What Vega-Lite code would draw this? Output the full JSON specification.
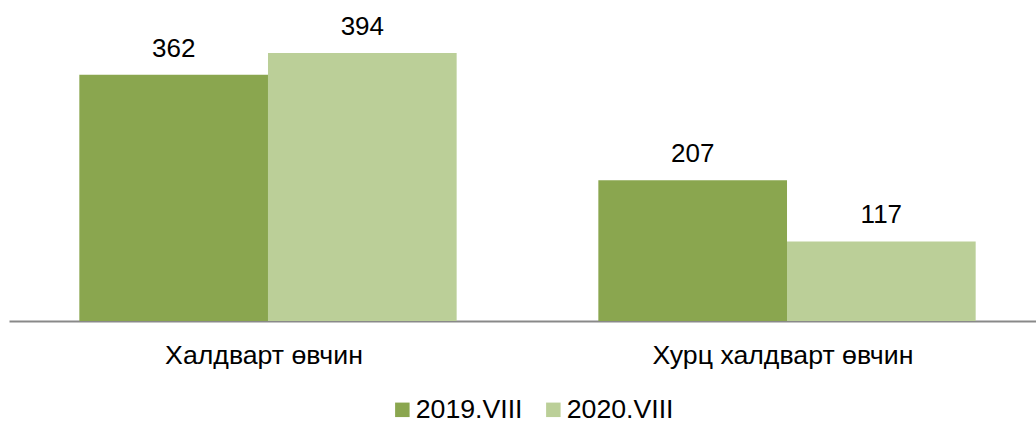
{
  "$schema": "https://vega.github.io/schema/vega-lite/v6.json",
  "width": 1027,
  "height": 306,
  "autosize": {"type": "none"},
  "padding": {"left": 9, "top": 15, "right": 0, "bottom": 100},
  "config": {
    "view": {"stroke": null},
    "font": "Liberation Sans"
  },
  "data": {
    "values": [
      {"cat": "Халдварт өвчин", "year": "2019.VIII", "value": 362},
      {"cat": "Халдварт өвчин", "year": "2020.VIII", "value": 394},
      {"cat": "Хурц халдварт өвчин", "year": "2019.VIII", "value": 207},
      {"cat": "Хурц халдварт өвчин", "year": "2020.VIII", "value": 117}
    ]
  },
  "encoding": {
    "x": {
      "field": "cat",
      "type": "nominal",
      "sort": null,
      "scale": {"range": [0, 1037], "paddingInner": 0.273, "paddingOuter": 0.1355},
      "axis": {
        "title": null,
        "labelAngle": 0,
        "ticks": false,
        "tickSize": 0,
        "labelPadding": 42,
        "labelBaseline": "alphabetic",
        "labelFontSize": 26.7,
        "labelFont": "Liberation Sans",
        "labelColor": "#000000",
        "labelLimit": 0,
        "labelOffset": -4,
        "domainColor": "#898989",
        "domainWidth": 2,
        "grid": false
      }
    },
    "xOffset": {
      "field": "year",
      "type": "nominal",
      "scale": {"paddingInner": 0, "paddingOuter": 0}
    },
    "y": {
      "field": "value",
      "type": "quantitative",
      "scale": {"domain": [0, 450]},
      "axis": null
    }
  },
  "layer": [
    {
      "mark": {"type": "bar"},
      "encoding": {
        "color": {
          "field": "year",
          "type": "nominal",
          "scale": {"range": ["#8AA64F", "#BBCF98"]},
          "legend": {
            "title": null,
            "orient": "none",
            "legendX": 380,
            "legendY": 381,
            "direction": "horizontal",
            "symbolType": "square",
            "symbolSize": 210,
            "symbolStrokeWidth": 0,
            "labelFontSize": 26.7,
            "labelFont": "Liberation Sans",
            "labelColor": "#000000",
            "labelLimit": 0,
            "labelOffset": 0,
            "columnPadding": 17,
            "padding": 0
          }
        }
      }
    },
    {
      "mark": {"type": "text", "baseline": "alphabetic", "dy": -18, "fontSize": 26, "font": "Liberation Sans", "color": "#000000"},
      "encoding": {
        "text": {"field": "value", "type": "quantitative"}
      }
    }
  ]
}
